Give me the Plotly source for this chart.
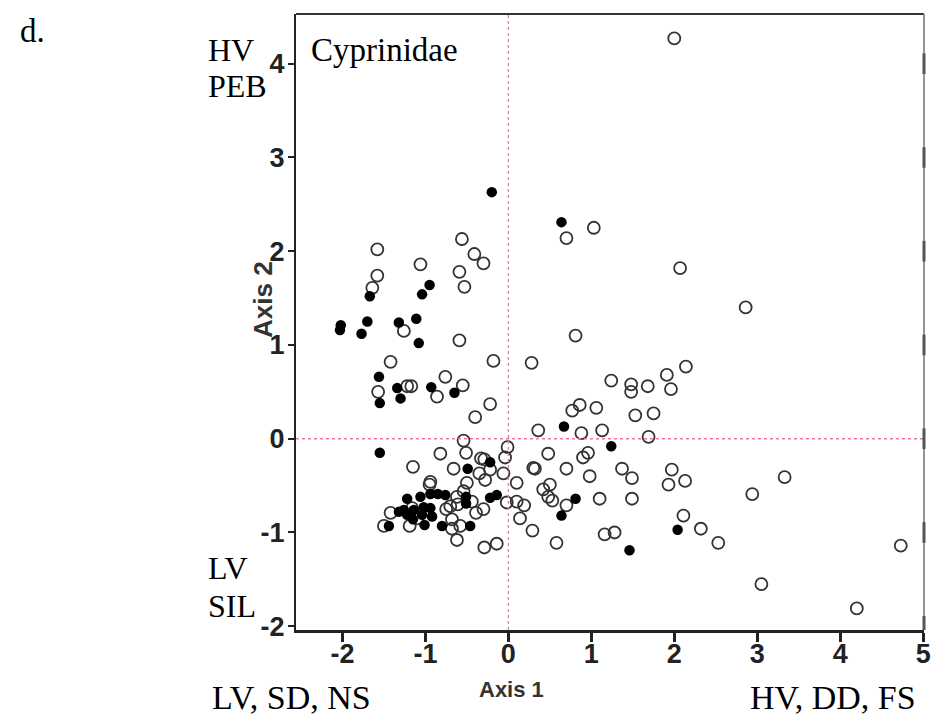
import plotly.graph_objects as go

# ---- data (Axis 1, Axis 2 scores) ----
filled_x = [-0.20, 0.64, -1.67, -0.95, -1.04, -2.02, -2.03, -1.77, -1.70, -1.32, -1.11, -1.08,
            -1.56, -1.55, -1.34, -1.30, -0.93, -0.65, -1.55, -0.49, -0.22, -1.22, -1.06, -0.94,
            -0.85, -0.76, -0.51, -0.51, -0.22, -0.14, -1.02, -0.94, -1.04, -0.92, -1.14, -1.26,
            -1.32, -1.22, -1.01, -0.80, -0.46, -1.44, 0.67, 1.24, 0.81, 0.64, 2.04, 1.46, -1.15]
filled_y = [2.63, 2.31, 1.52, 1.64, 1.54, 1.21, 1.16, 1.12, 1.25, 1.24, 1.28, 1.02,
            0.66, 0.38, 0.54, 0.43, 0.55, 0.49, -0.15, -0.32, -0.25, -0.64, -0.62, -0.59,
            -0.59, -0.60, -0.62, -0.69, -0.63, -0.60, -0.73, -0.74, -0.81, -0.83, -0.76, -0.76,
            -0.78, -0.81, -0.92, -0.93, -0.93, -0.93, 0.13, -0.08, -0.64, -0.82, -0.97, -1.19, -0.86]

open_x = [2.00, 0.70, 1.03, 2.07, 2.86, -1.58, -1.58, -1.64, -1.06, -0.56, -0.41, -0.30,
          -0.59, -0.53, -1.26, -0.59, -1.42, -0.18, 0.28, -1.57, -1.22, -1.17, -0.76, -0.86,
          -0.55, -0.22, -0.40, 0.81, 2.14, 1.91, 1.24, 1.48, 1.48, 1.68, 1.96, 0.86,
          0.77, 1.06, 1.53, 1.75, 0.36, 0.88, 1.13, 1.69, -0.01, -0.04, 0.48, 0.96,
          0.90, 0.30, 0.32, 0.70, 1.37, 1.97, -0.06, 0.98, 1.49, 2.13, 3.33, 0.10,
          0.50, 1.93, 0.42, 2.94, 0.48, 0.53, 1.10, 1.49, -0.02, 0.10, 0.19, 0.70,
          0.14, 2.11, 0.29, 2.32, 1.16, 1.28, 0.58, 2.53, 4.73, 3.05, 4.20, -0.54,
          -0.82, -0.51, -1.15, -0.66, -0.33, -0.29, -0.22, -0.35, -0.28, -0.50, -0.94, -0.95,
          -0.54, -0.62, -0.70, -0.75, -0.61, -0.30, -0.39, -1.42, -0.68, -0.68, -0.58, -0.62,
          -0.29, -0.14, -1.50, -1.19, -1.16, -1.10, -0.44]
open_y = [4.27, 2.14, 2.25, 1.82, 1.40, 2.02, 1.74, 1.61, 1.86, 2.13, 1.97, 1.87,
          1.78, 1.62, 1.15, 1.05, 0.82, 0.83, 0.81, 0.50, 0.56, 0.56, 0.66, 0.45,
          0.57, 0.37, 0.23, 1.10, 0.77, 0.68, 0.62, 0.58, 0.50, 0.56, 0.53, 0.36,
          0.30, 0.33, 0.25, 0.27, 0.09, 0.06, 0.09, 0.02, -0.09, -0.20, -0.16, -0.15,
          -0.20, -0.31, -0.32, -0.32, -0.32, -0.33, -0.37, -0.40, -0.42, -0.45, -0.41, -0.47,
          -0.49, -0.49, -0.54, -0.59, -0.62, -0.66, -0.64, -0.64, -0.68, -0.67, -0.71, -0.71,
          -0.85, -0.82, -0.98, -0.96, -1.02, -1.00, -1.11, -1.11, -1.14, -1.55, -1.81, -0.02,
          -0.16, -0.15, -0.30, -0.32, -0.21, -0.22, -0.33, -0.37, -0.44, -0.47, -0.46, -0.49,
          -0.56, -0.62, -0.72, -0.75, -0.70, -0.75, -0.79, -0.79, -0.86, -0.96, -0.93, -1.08,
          -1.16, -1.12, -0.93, -0.93, -0.74, -0.85, -0.67]

x_ticks = [-2, -1, 0, 1, 2, 3, 4, 5]
y_ticks = [-2, -1, 0, 1, 2, 3, 4]
x_range = [-2.56, 5.01]
y_range = [-2.04, 4.53]

# figure geometry (page body margin removed in post_script)
W, H = 932, 717
L, R, T, B = 296, 8, 14, 87
pw, ph = W - L - R, H - T - B


def px(xv):
    """viewport x pixel -> paper x"""
    return (xv - L) / pw


def py(yv):
    """viewport y pixel -> paper y"""
    return ((H - B) - yv) / ph


fig = go.Figure()
fig.add_trace(go.Scatter(
    x=open_x, y=open_y, mode="markers",
    marker=dict(symbol="circle-open", size=12, color="#333333", line=dict(width=1.8)),
    showlegend=False, hoverinfo="x+y"))
fig.add_trace(go.Scatter(
    x=filled_x, y=filled_y, mode="markers",
    marker=dict(symbol="circle", size=10.5, color="#000000", line=dict(width=0)),
    showlegend=False, hoverinfo="x+y"))

shapes = [
    dict(type="line", xref="x", yref="paper", x0=0, x1=0, y0=0, y1=1,
         line=dict(color="#f07890", width=1.3, dash="dot")),
    dict(type="line", xref="paper", yref="y", x0=0, x1=1, y0=0, y1=0,
         line=dict(color="#f07890", width=1.3, dash="dot")),
    dict(type="line", xref="paper", yref="paper", x0=0, x1=1, y0=1, y1=1,
         line=dict(color="#333333", width=2)),
    dict(type="line", xref="paper", yref="paper", x0=1, x1=1, y0=0, y1=1,
         line=dict(color="#8a8a8a", width=1.8)),
]
for t in y_ticks:
    shapes.append(dict(type="line", xref="paper", yref="y", x0=1, x1=1,
                       y0=t - 0.11, y1=t + 0.11, line=dict(color="#555555", width=3)))

serif = dict(family="Liberation Serif, Times New Roman, serif", size=33, color="#000000")
sansb = dict(family="Liberation Sans, Arial, sans-serif", size=22, color="#333333", weight="bold")

ann = [
    dict(text="d.", x=px(18), y=py(31), xanchor="left", yanchor="middle", font=serif),
    dict(text="HV", x=px(206), y=py(50), xanchor="left", yanchor="middle", font=dict(serif, size=32)),
    dict(text="PEB", x=px(206), y=py(86), xanchor="left", yanchor="middle", font=dict(serif, size=32)),
    dict(text="Cyprinidae", x=px(309), y=py(50), xanchor="left", yanchor="middle", font=serif),
    dict(text="LV", x=px(206), y=py(568), xanchor="left", yanchor="middle", font=dict(serif, size=32)),
    dict(text="SIL", x=px(206), y=py(606), xanchor="left", yanchor="middle", font=dict(serif, size=32)),
    dict(text="LV, SD, NS", x=px(210), y=py(697), xanchor="left", yanchor="middle", font=dict(serif, size=34)),
    dict(text="HV, DD, FS", x=px(918), y=py(697), xanchor="right", yanchor="middle", font=dict(serif, size=34)),
    dict(text="Axis 1", x=px(511), y=py(689), xanchor="center", yanchor="middle", font=sansb),
    dict(text="Axis 2", x=px(263), y=py(300), xanchor="center", yanchor="middle",
         textangle=-90, font=dict(sansb, size=26)),
]
for a in ann:
    a.update(xref="paper", yref="paper", showarrow=False)

tickfont = dict(family="Liberation Sans Narrow, Liberation Sans, Arial, sans-serif",
                size=27, color="#222222", weight="bold")

fig.update_layout(
    width=W, height=H,
    margin=dict(l=L, r=R, t=T, b=B, pad=0, autoexpand=False),
    paper_bgcolor="white", plot_bgcolor="white",
    shapes=shapes, annotations=ann,
    xaxis=dict(range=x_range, tickvals=x_ticks, ticktext=[str(v) for v in x_ticks],
               showgrid=False, zeroline=False, showline=True, linecolor="#222222", linewidth=3,
               ticks="outside", ticklen=9, tickwidth=2.5, tickcolor="#222222",
               ticklabelstandoff=-11, automargin=False,
               tickfont=tickfont, fixedrange=True),
    yaxis=dict(range=y_range, tickvals=y_ticks, ticktext=[str(v) for v in y_ticks],
               showgrid=False, zeroline=False, showline=True, linecolor="#222222", linewidth=2,
               ticks="outside", ticklen=6, tickwidth=2, tickcolor="#222222",
               ticklabelstandoff=-2, automargin=False,
               tickfont=tickfont, fixedrange=True),
)

fig.write_html(
    "out.html",
    config={"displayModeBar": False},
    post_script="document.body.style.margin='0';document.body.style.overflow='hidden';",
)
